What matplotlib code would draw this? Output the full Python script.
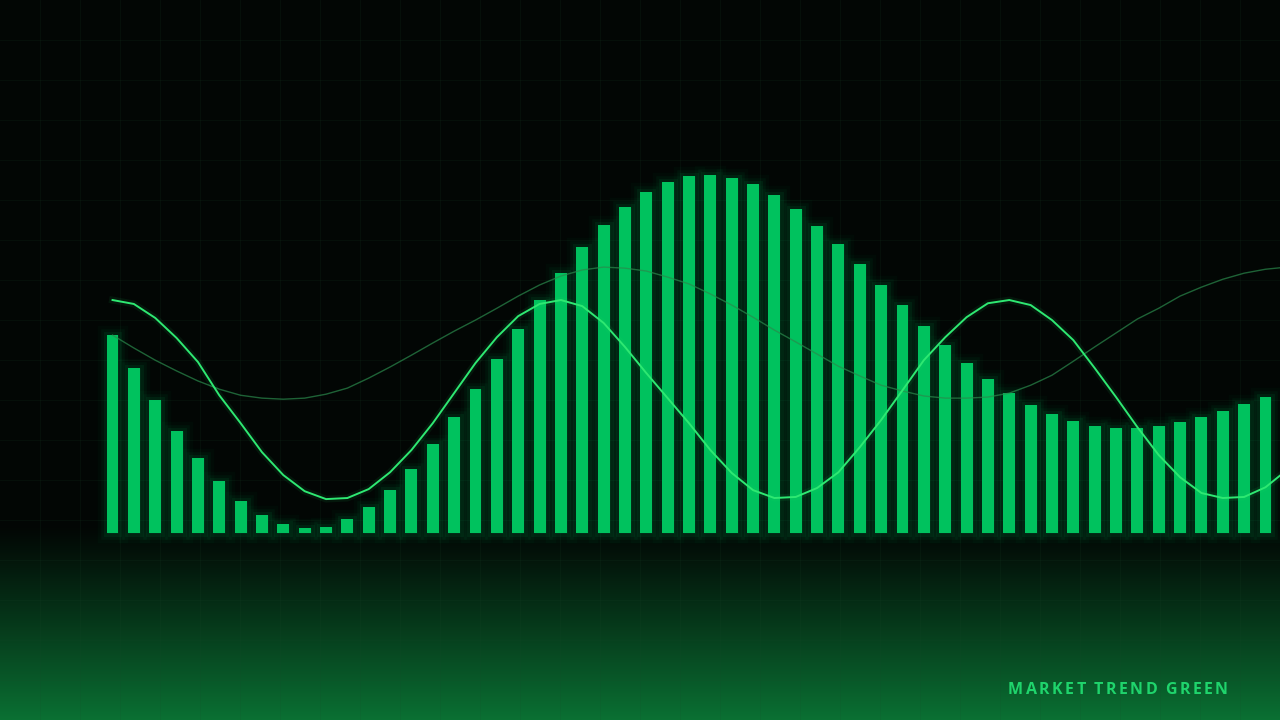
import numpy as np
import matplotlib
matplotlib.use("Agg")
import matplotlib.pyplot as plt

# bar heights (0-100 scale)
bars = [55.3, 46.1, 37.2, 28.5, 20.9, 14.5, 8.9, 5.0, 2.5, 1.4,
        1.7, 3.9, 7.3, 12.0, 17.9, 24.9, 32.4, 40.2, 48.6, 57.0,
        65.1, 72.6, 79.9, 86.0, 91.1, 95.3, 98.0, 99.7, 100.0, 99.2,
        97.5, 94.4, 90.5, 85.8, 80.7, 75.1, 69.3, 63.7, 57.8, 52.5,
        47.5, 43.0, 39.1, 35.8, 33.2, 31.3, 29.9, 29.3, 29.3, 29.9,
        31.0, 32.4, 34.1, 36.0, 38.0]

# bright oscillating line (last point runs past the right edge)
fast = [65.1, 64.0, 60.1, 54.5, 47.8, 38.5, 30.7, 22.6, 16.2, 11.7,
        9.5, 9.8, 12.3, 17.0, 23.2, 30.7, 39.1, 47.5, 54.7, 60.6,
        64.0, 65.1, 63.4, 58.7, 52.0, 44.7, 37.7, 30.7, 23.2, 16.8,
        12.0, 9.8, 10.1, 12.6, 17.0, 24.0, 31.6, 39.9, 48.3, 54.7,
        60.3, 64.2, 65.1, 63.7, 59.5, 53.9, 46.1, 38.0, 29.6, 21.8,
        15.6, 11.2, 9.8, 10.1, 12.8, 17.6]

# dim slow line
slow = [55.3, 51.7, 48.3, 45.3, 42.5, 40.2, 38.5, 37.7, 37.4, 37.7,
        38.8, 40.5, 43.3, 46.4, 49.7, 53.1, 56.4, 59.5, 62.8, 66.2,
        69.3, 71.8, 73.5, 74.3, 74.0, 73.2, 71.5, 69.6, 66.8, 63.7,
        60.3, 56.7, 53.4, 50.0, 46.6, 43.9, 41.3, 39.7, 38.3, 37.7,
        37.7, 38.0, 39.1, 41.3, 44.1, 48.0, 52.0, 55.9, 59.8, 62.8,
        66.2, 68.7, 70.9, 72.6, 73.7, 74.3]

title = "MARKET TREND GREEN"

fig = plt.figure(figsize=(12.8, 7.2), dpi=100)

# background: near black on top, green glow rising from the bottom
bg = fig.add_axes([0, 0, 1, 1])
bg.set_axis_off()
rows = np.linspace(0, 1, 720)  # 0 = top, 1 = bottom
t = np.clip((rows - 0.73) / (1 - 0.73), 0, 1) ** 1.1
top_c = np.array([0.008, 0.024, 0.016])
bot_c = np.array([0.04, 0.44, 0.20])
img = top_c[None, :] * (1 - t[:, None]) + bot_c[None, :] * t[:, None]
img = np.repeat(img[:, None, :], 2, axis=1)
bg.imshow(img, aspect="auto", extent=(0, 1, 0, 1), interpolation="bilinear")
for gx in np.arange(40, 1280, 40) / 1280:
    bg.axvline(gx, color="#1c4a2c", lw=0.6, alpha=0.16)
for gy in np.arange(40, 720, 40) / 720:
    bg.axhline(1 - gy, color="#1c4a2c", lw=0.6, alpha=0.16)
bg.set_xlim(0, 1)
bg.set_ylim(0, 1)

ax = fig.add_axes([0, 0, 1, 1])
ax.set_facecolor("none")
ax.set_axis_off()

x = np.arange(len(bars))
xl = np.arange(len(fast))
bar_color = "#00c25e"

# soft glow behind the bars
for lw, a in [(14, 0.03), (9, 0.05), (5, 0.08)]:
    ax.bar(x, bars, width=0.56, color=bar_color, edgecolor=bar_color,
           linewidth=lw, alpha=a, zorder=1)
ax.bar(x, bars, width=0.56, color=bar_color, edgecolor="none", zorder=2)

ax.plot(xl, slow, color="#2a8a4c", lw=1.0, alpha=0.7, zorder=3)
ax.plot(xl, fast, color="#1ee06a", lw=5, alpha=0.08, zorder=3)
ax.plot(xl, fast, color="#2ee872", lw=1.4, zorder=4)

ax.set_xlim(-5.27, 54.68)
ax.set_ylim(-52.2, 148.9)

# spaced-out label, placed character by character
fig.canvas.draw()
r = fig.canvas.get_renderer()
px = 1008
for ch in title:
    tx = fig.text(px / 1280, 1 - 694 / 720, ch, color="#1fd46c",
                  fontsize=11.5, fontweight="bold",
                  family=["Open Sans", "DejaVu Sans"], ha="left", va="baseline")
    w = tx.get_window_extent(renderer=r).width
    if ch == " ":
        w = 3.5
    px += w + 2.4

fig.savefig("out.png", dpi=100)
